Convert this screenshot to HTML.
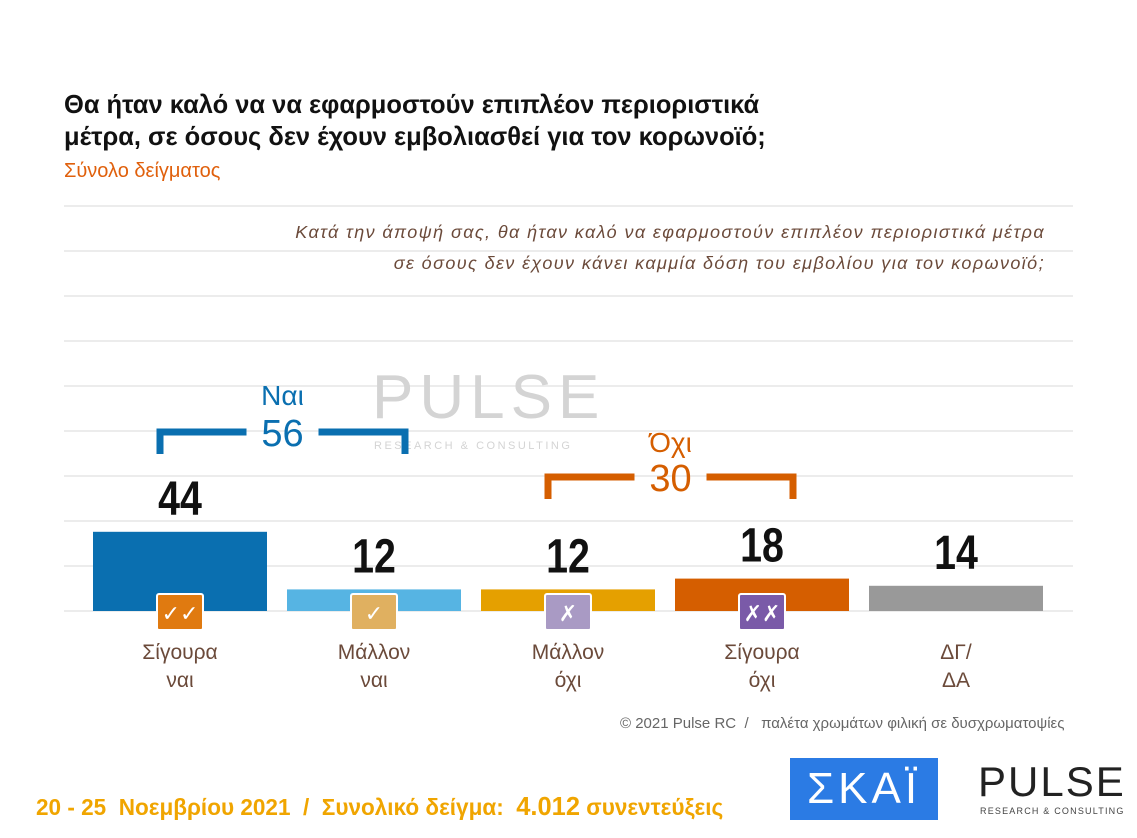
<!DOCTYPE html>
<html><head><meta charset="utf-8">
<style>
body{margin:0;width:1137px;height:838px;background:#fff;position:relative;overflow:hidden;font-family:"Liberation Sans","DejaVu Sans",sans-serif}
.abs{position:absolute}
</style></head><body>
<div class="abs" style="left:64px;top:88px;font-size:26px;font-weight:bold;color:#111;line-height:32px;white-space:nowrap;transform:scaleX(0.98);transform-origin:left top">Θα ήταν καλό να να εφαρμοστούν επιπλέον περιοριστικά<br>μέτρα, σε όσους δεν έχουν εμβολιασθεί για τον κορωνοϊό;</div>
<div class="abs" style="left:64px;top:160px;font-size:20px;color:#e0600c">Σύνολο δείγματος</div>
<div class="abs" style="right:92px;top:217px;font-size:18px;letter-spacing:1.4px;font-style:italic;color:#6b4a3a;text-align:right;line-height:31px;background:#fff;padding-left:10px;white-space:nowrap">Κατά την άποψή σας, θα ήταν καλό να εφαρμοστούν επιπλέον περιοριστικά μέτρα<br>σε όσους δεν έχουν κάνει καμμία δόση του εμβολίου για τον κορωνοϊό;</div>
<svg id="chart" class="abs" style="left:0;top:0" width="1137" height="838"></svg>
<div class="abs" style="left:620px;top:715px;font-size:15px;color:#666;white-space:nowrap">© 2021 Pulse RC &nbsp;/ &nbsp; παλέτα χρωμάτων φιλική σε δυσχρωματοψίες</div>
<div class="abs" style="left:36px;top:791px;font-size:23px;font-weight:bold;color:#f0a500;white-space:nowrap;transform:scaleX(0.98);transform-origin:left top">20 - 25 &nbsp;Νοεμβρίου 2021 &nbsp;/ &nbsp;Συνολικό δείγμα: &nbsp;<span style="font-size:26px">4.012</span> συνεντεύξεις</div>
<div class="abs" style="left:790px;top:758px;width:148px;height:62px;background:#2b7be4;color:#fff;font-size:44px;text-align:center;line-height:62px;letter-spacing:4px">ΣΚΑΪ</div>
<div class="abs" style="left:978px;top:760px;font-size:42px;color:#222;letter-spacing:2px;line-height:44px">PULSE</div>
<div class="abs" style="left:980px;top:806px;font-size:9px;color:#444;letter-spacing:1.2px">RESEARCH &amp; CONSULTING</div>
<script>
const categories=["Σίγουρα|ναι","Μάλλον|ναι","Μάλλον|όχι","Σίγουρα|όχι","ΔΓ/|ΔΑ"];
const values=[44,12,12,18,14];
const colors=["#0a6fb0","#56b4e3","#e5a000","#d55e00","#999999"];
const iconColors=["#e07a10","#e0b060","#a99ac4","#7a5aa8",null];
const iconText=["✓✓","✓","✗","✗✗",null];
const groupLabels=["Ναι","Όχι"];
const groupValues=[56,30];
const NS="http://www.w3.org/2000/svg";
const svg=document.getElementById('chart');
const base=611, scale=1.8, x0=93, step=194, bw=174;
const y=v=>base-v*scale, x=i=>x0+i*step;
function mk(t,a,p){const e=document.createElementNS(NS,t);for(const k in a)e.setAttribute(k,a[k]);(p||svg).appendChild(e);return e;}
for(let g=0;g<10;g++){const gy=206+g*45;
const l=mk('line',{x1:64,x2:1073,y1:gy,y2:gy,stroke:'#e6e6e6','stroke-width':1.5});

}
const wm=mk('text',{x:372,y:418,'font-size':62,fill:'#d4d4d4','letter-spacing':6});wm.textContent='PULSE';


const wm2=mk('text',{x:374,y:449,'font-size':11,fill:'#d4d4d4','letter-spacing':2.5});wm2.textContent='RESEARCH & CONSULTING';


values.forEach((v,i)=>{
const cx=x(i)+bw/2;
const r=mk('rect',{x:x(i),y:y(v),width:bw,height:v*scale,fill:colors[i]});


const t=mk('text',{x:cx,y:y(v)-17,'text-anchor':'middle','font-size':48,'font-weight':'bold',fill:'#111',transform:`translate(${cx} 0) scale(0.82 1) translate(${-cx} 0)`});
t.textContent=v;


categories[i].split('|').forEach((p,j)=>{const c=mk('text',{x:cx,y:659+j*28,'text-anchor':'middle','font-size':21,fill:'#6b4a3a'});c.textContent=p;

});
if(iconColors[i]){
const ic=mk('rect',{x:cx-23,y:594,width:46,height:36,rx:2,fill:iconColors[i],stroke:'#fff','stroke-width':2});


const it=mk('text',{x:cx,y:621,'text-anchor':'middle','font-size':22,'font-weight':'bold',fill:'#fff'});it.textContent=iconText[i];

}
});
const groups=[[0,1,'#0a6fb0',432,405],[2,3,'#d55e00',477,452]];
groups.forEach((g,k)=>{const [a,b,col,by,ly]=g;const xa=x(a)+bw/2-20,xb=x(b)+bw/2+31,mid=(xa+xb)/2;
const p=mk('path',{d:`M${xa} ${by+22}V${by}H${mid-36}M${mid+36} ${by}H${xb}V${by+22}`,stroke:col,'stroke-width':7,fill:'none'});


const n=mk('text',{x:mid,y:by+14,'text-anchor':'middle','font-size':38,fill:col});n.textContent=groupValues[k];


const l=mk('text',{x:mid,y:ly,'text-anchor':'middle','font-size':28,fill:col});l.textContent=groupLabels[k];

});
</script>
</body></html>
